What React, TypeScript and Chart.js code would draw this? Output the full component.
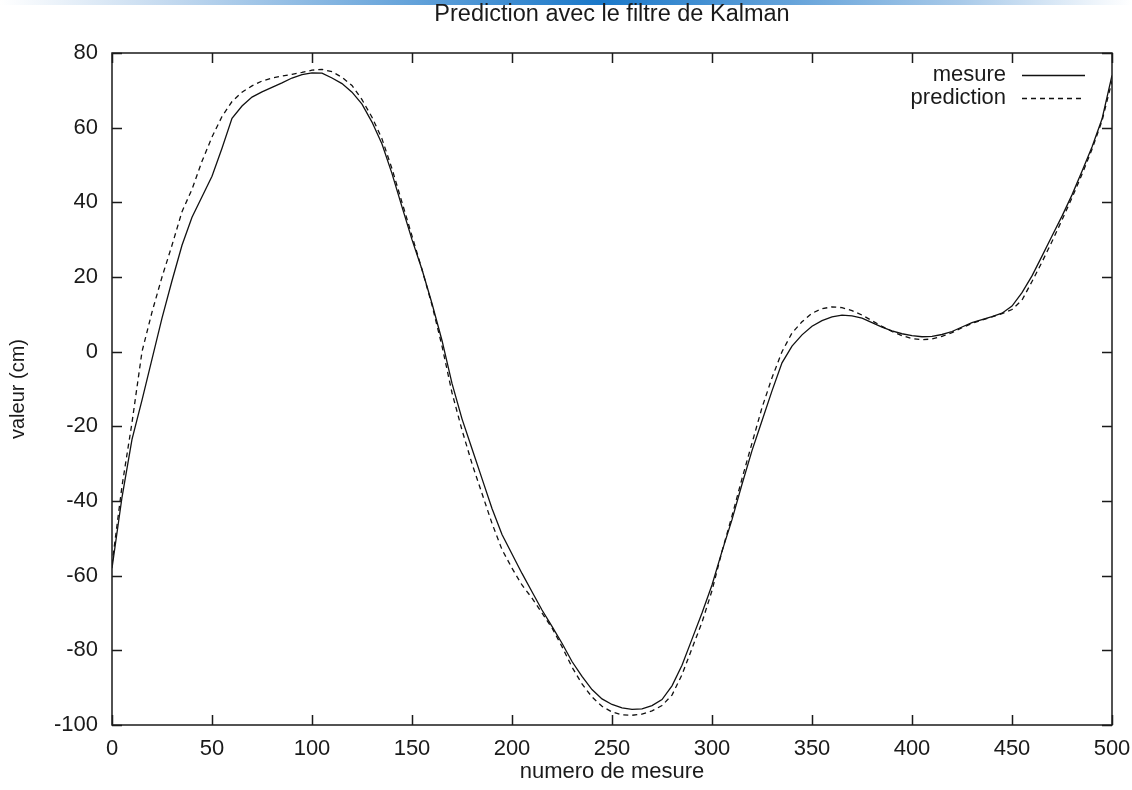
import React, { useEffect, useRef } from "react";
import { Chart, registerables } from "chart.js";

Chart.register(...registerables);

const TITLE = "Prediction avec le filtre de Kalman";
const X_TITLE = "numero de mesure";
const Y_TITLE = "valeur (cm)";
const SERIES_NAMES = ["mesure", "prediction"];

const xs = [
  0, 5, 10, 15, 20, 25, 30, 35, 40, 45, 50, 55, 60, 65, 70, 75, 80, 85, 90, 95,
  100, 105, 110, 115, 120, 125, 130, 135, 140, 145, 150, 155, 160, 165, 170, 175, 180, 185, 190, 195,
  200, 205, 210, 215, 220, 225, 230, 235, 240, 245, 250, 255, 260, 265, 270, 275, 280, 285, 290, 295,
  300, 305, 310, 315, 320, 325, 330, 335, 340, 345, 350, 355, 360, 365, 370, 375, 380, 385, 390, 395,
  400, 405, 410, 415, 420, 425, 430, 435, 440, 445, 450, 455, 460, 465, 470, 475, 480, 485, 490, 495,
  500,
];

const mesure = [
  -58, -39, -23.5, -13, -2, 9, 19, 28.5, 36, 41.5, 47, 54.5, 62.5, 65.8, 68.2, 69.6, 70.8, 72, 73.3, 74.2,
  74.7, 74.6, 73.3, 71.8, 69.5, 66.3, 61.5, 55.6, 47.7, 38.8, 30, 22, 12.9, 3, -8.5, -18, -26, -34, -42, -49,
  -54.2, -59.4, -64.3, -69.2, -73.6, -78.1, -83, -87, -90.5, -93, -94.5, -95.4, -95.8, -95.7, -94.8, -93.2, -89.5, -84, -77, -70,
  -62.5, -53.5, -45, -35.5, -26.5, -18.5, -10.5, -3, 1.5, 4.5, 6.8, 8.3, 9.3, 9.8, 9.6, 9, 7.8, 6.6, 5.6, 4.8,
  4.3, 4, 4.1, 4.6, 5.4, 6.6, 7.8, 8.6, 9.4, 10.3, 12.2, 15.8, 20.3, 25.6, 31, 36.3, 42, 48.3, 54.8, 62.3,
  74,
];

const prediction = [
  -57, -36, -19, 0, 10.6, 20, 28.5, 37.5, 43.5, 51, 57.5, 63, 67, 69.5, 71.2, 72.5, 73.3, 73.8, 74.3, 74.8,
  75.4, 75.6, 75, 73.5, 71.3, 67.5, 62.8, 57, 49, 40, 31, 22, 12.5, 1.5, -11, -21, -30, -38, -46, -53,
  -58, -62.5, -66, -70, -74, -79, -84.5, -89, -92.5, -95, -96.5, -97.3, -97.4, -97.1, -96.2, -94.8, -92, -86.5, -79.5, -72.5,
  -64, -53.5, -44, -34, -24.5, -15, -7, 0, 5, 8, 10.3, 11.5, 12, 11.8, 11, 9.8, 8.3, 6.8, 5.4, 4.3,
  3.5, 3.2, 3.4, 4.1, 5.1, 6.4, 7.6, 8.5, 9.3, 10.2, 11.3, 13.8, 18.8, 24, 29.5, 35.3, 41.2, 47.5, 54.2, 61.8,
  72.5,
];

const X_MIN = 0;
const X_MAX = 500;
const X_STEP = 50;
const Y_MIN = -100;
const Y_MAX = 80;
const Y_STEP = 20;

const FONT = "'Liberation Sans', Arial, Helvetica, sans-serif";
const INK = "#1a1a1a";

const decorPlugin = {
  id: "gnuplotDecor",
  beforeDraw(chart: any) {
    const { ctx, width } = chart;
    ctx.save();
    const g = ctx.createLinearGradient(0, 0, width, 0);
    g.addColorStop(0, "#ffffff");
    g.addColorStop(0.15, "#c3d9ef");
    g.addColorStop(0.53, "#1a78c9");
    g.addColorStop(0.85, "#a9cae9");
    g.addColorStop(0.975, "#f2f7fc");
    g.addColorStop(1, "#ffffff");
    ctx.fillStyle = g;
    ctx.fillRect(0, 0, width, 5);
    ctx.restore();
  },
  afterDraw(chart: any) {
    const { ctx, chartArea } = chart;
    const { left, right, top, bottom } = chartArea;
    const xs = chart.scales.x;
    const ys = chart.scales.y;
    ctx.save();
    // title
    ctx.fillStyle = INK;
    ctx.font = `23.5px ${FONT}`;
    ctx.textAlign = "center";
    ctx.textBaseline = "middle";
    ctx.fillText(TITLE, (left + right) / 2, 15);

    // frame
    ctx.strokeStyle = INK;
    ctx.lineWidth = 1.5;
    ctx.setLineDash([]);
    ctx.strokeRect(left, top, right - left, bottom - top);

    // inward mirrored ticks
    const TL = 10;
    ctx.beginPath();
    xs.ticks.forEach((t: any) => {
      const px = Math.round(xs.getPixelForValue(t.value)) + 0.5;
      ctx.moveTo(px, bottom);
      ctx.lineTo(px, bottom - TL);
      ctx.moveTo(px, top);
      ctx.lineTo(px, top + TL);
    });
    ys.ticks.forEach((t: any) => {
      const py = Math.round(ys.getPixelForValue(t.value)) + 0.5;
      ctx.moveTo(left, py);
      ctx.lineTo(left + TL, py);
      ctx.moveTo(right, py);
      ctx.lineTo(right - TL, py);
    });
    ctx.stroke();

    // legend (gnuplot style: right-aligned text, sample to the right)
    const textRight = 1006;
    const sx0 = 1022;
    const sx1 = 1085;
    const rows = [75, 98];
    chart.data.datasets.forEach((ds: any, i: number) => {
      const y = rows[i];
      ctx.fillStyle = INK;
      ctx.font = `22px ${FONT}`;
      ctx.textAlign = "right";
      ctx.textBaseline = "middle";
      ctx.fillText(ds.label, textRight, y);
      ctx.strokeStyle = ds.borderColor;
      ctx.lineWidth = ds.borderWidth;
      ctx.setLineDash(ds.borderDash || []);
      ctx.beginPath();
      ctx.moveTo(sx0, y + 0.5);
      ctx.lineTo(sx1, y + 0.5);
      ctx.stroke();
    });
    ctx.restore();
  },
};

export default function App() {
  const ref = useRef<HTMLCanvasElement | null>(null);

  useEffect(() => {
    if (!ref.current) return;
    const toPts = (arr: number[]) => xs.map((x, i) => ({ x, y: arr[i] }));
    const chart = new Chart(ref.current, {
      type: "line",
      data: {
        datasets: [
          {
            label: SERIES_NAMES[0],
            data: toPts(mesure),
            borderColor: "#111111",
            borderWidth: 1.3,
            pointRadius: 0,
            tension: 0,
            fill: false,
          },
          {
            label: SERIES_NAMES[1],
            data: toPts(prediction),
            borderColor: "#111111",
            borderWidth: 1.3,
            borderDash: [5, 4],
            pointRadius: 0,
            tension: 0,
            fill: false,
          },
        ],
      },
      options: {
        animation: false,
        responsive: false,
        devicePixelRatio: 1,
        layout: { padding: { top: 53, right: 20, left: 0, bottom: 0 } },
        plugins: {
          legend: { display: false },
          title: { display: false },
          tooltip: { enabled: false },
        },
        scales: {
          x: {
            type: "linear",
            min: X_MIN,
            max: X_MAX,
            grid: { display: false, drawTicks: false },
            border: { display: false },
            ticks: {
              stepSize: X_STEP,
              padding: 11,
              color: INK,
              font: { family: FONT, size: 22 },
              maxRotation: 0,
            },
            title: {
              display: true,
              text: X_TITLE,
              color: INK,
              font: { family: FONT, size: 22 },
              padding: { top: 0, bottom: 5 },
            },
            afterFit: (s: any) => {
              s.height = 65;
              s.paddingLeft = 0;
              s.paddingRight = 0;
            },
          },
          y: {
            type: "linear",
            min: Y_MIN,
            max: Y_MAX,
            grid: { display: false, drawTicks: false },
            border: { display: false },
            ticks: {
              stepSize: Y_STEP,
              padding: 14,
              color: INK,
              font: { family: FONT, size: 22 },
            },
            title: {
              display: true,
              text: Y_TITLE,
              color: INK,
              font: { family: FONT, size: 20 },
              padding: { top: 6, bottom: 0 },
            },
            afterFit: (s: any) => {
              s.width = 112;
              s.paddingTop = 0;
              s.paddingBottom = 0;
            },
          },
        },
      },
      plugins: [decorPlugin],
    });
    return () => chart.destroy();
  }, []);

  return (
    <div
      style={{
        position: "fixed",
        left: 0,
        top: 0,
        width: 1132,
        height: 790,
        background: "#ffffff",
      }}
    >
      <canvas ref={ref} width={1132} height={790} style={{ display: "block" }} />
    </div>
  );
}
